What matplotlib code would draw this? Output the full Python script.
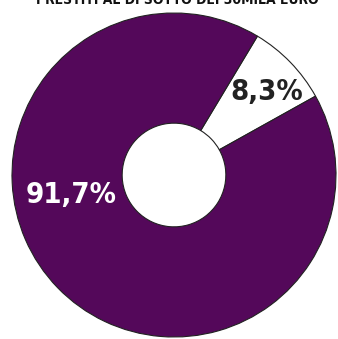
"""Ciambella: quota dei prestiti al di sotto dei 30mila euro."""
import matplotlib
matplotlib.use('Agg')
import matplotlib.pyplot as plt
import numpy as np

shares = [8.3, 91.7]
labels = ['8,3%', '91,7%']
colors = ['#ffffff', '#54085a']
label_colors = ['#222222', '#ffffff']
title = 'PRESTITI AL DI SOTTO DEI 30MILA EURO'

plt.rcParams['font.family'] = ['DejaVu Sans']
plt.rcParams['font.stretch'] = 'condensed'

W, H = 338, 339
fig = plt.figure(figsize=(W / 100, H / 100), dpi=100)
ax = fig.add_axes([0, 0, 1, 1])

cx, cy, r = 174, 164, 162
hole = 0.32
wedges, _ = ax.pie(shares, colors=colors, startangle=59, counterclock=False,
                   center=(cx, cy), radius=r,
                   wedgeprops=dict(width=r * (1 - hole), edgecolor='#222222',
                                   linewidth=0.8))
ax.set_xlim(0, W)
ax.set_ylim(0, H)
ax.set_aspect('equal')
ax.axis('off')

# posizione delle etichette (angolo in gradi, distanza relativa al raggio)
label_pos = [(42, 0.77), (191, 0.65)]
for lab, col, (ang, d) in zip(labels, label_colors, label_pos):
    a = np.deg2rad(ang)
    ax.text(cx + d * r * np.cos(a), cy + d * r * np.sin(a), lab,
            color=col, fontsize=21, fontweight='semibold',
            ha='center', va='center')

fig.text(0.525, 1.0, title, ha='center', va='center',
         fontsize=10, fontweight='bold', color='#111111')

fig.savefig('out.png', dpi=100)
